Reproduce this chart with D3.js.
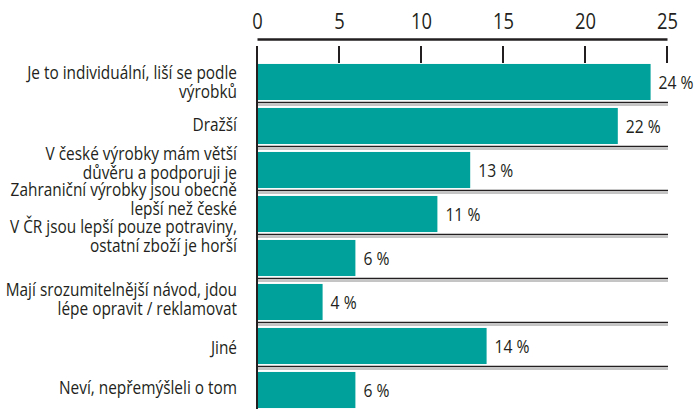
<!DOCTYPE html>
<html>
<head>
<meta charset="utf-8">
<script src="https://cdn.jsdelivr.net/npm/d3@7"></script>
<style>
  body { margin: 0; background: #fff; }
  text { font-family: "Open Sans", "Noto Sans", sans-serif; font-weight: 500; fill: #231f20; }
</style>
</head>
<body>
<div class="svg-container"></div>
<script>
// answers (category text, split into lines)
const categories = [
    ["Je to individuální, liší se podle", "výrobků"],
    ["Dražší"],
    ["V české výrobky mám větší", "důvěru a podporuji je"],
    ["Zahraniční výrobky jsou obecně", "lepší než české"],
    ["V ČR jsou lepší pouze potraviny,", "ostatní zboží je horší"],
    ["Mají srozumitelnější návod, jdou", "lépe opravit / reklamovat"],
    ["Jiné"],
    ["Neví, nepřemýšleli o tom"],
];
const values = [24, 22, 13, 11, 6, 4, 14, 6];
const tickValues = [0, 5, 10, 15, 20, 25];

// squeeze text horizontally around its anchor (the original uses a condensed face)
function squeeze(sel, sx, anchorX) {
    sel.attr("transform", function (d, i) {
        const ax = anchorX(d, i);
        return "translate(" + ax + ",0) scale(" + sx + ",1) translate(" + (-ax) + ",0)";
    });
}

function chart() {
    const width = 697;
    const height = 409;
    const barColor = "#00a19a";
    const ink = "#231f20";

    // small vertical nudges so the labels sit like in the original layout
    const labelNudge = [0, -1, -6.5, -15, -22, -2.5, 2, -2];

    const svg = d3.select(".svg-container").append("svg")
        .attr("width", width)
        .attr("height", height);

    const keys = categories.map((c, i) => "c" + i);

    const xScale = d3.scaleLinear().domain([0, 25]).range([257, 667]);
    const yScale = d3.scaleBand()
        .domain(keys)
        .range([60, 412])
        .paddingInner(0.18)
        .paddingOuter(0.09);
    const step = yScale.step();

    // bars
    svg.append("g")
        .selectAll(".bar")
        .data(values)
        .enter()
        .append("rect")
        .classed("bar", true)
        .attr("fill", barColor)
        .attr("x", xScale(0))
        .attr("y", (d, i) => yScale(keys[i]))
        .attr("width", d => xScale(d) - xScale(0))
        .attr("height", yScale.bandwidth());

    // separators between rows (dark line + grey shadow)
    const seps = keys.slice(0, -1).map(k => yScale(k) - step * 0.09 + step);
    const sepG = svg.append("g");
    sepG.selectAll(".sep-dark").data(seps).enter().append("line")
        .attr("x1", xScale(0)).attr("x2", xScale(25) + 1)
        .attr("y1", d => d - 1.5).attr("y2", d => d - 1.5)
        .attr("stroke", ink).attr("stroke-width", 1.5);
    sepG.selectAll(".sep-grey").data(seps).enter().append("line")
        .attr("x1", xScale(0)).attr("x2", xScale(25) + 1)
        .attr("y1", d => d + 1).attr("y2", d => d + 1)
        .attr("stroke", "#8a8a8a").attr("stroke-width", 1);

    // top axis: line + labels
    const axis = svg.append("g")
        .attr("transform", "translate(0,39)")
        .call(d3.axisTop(xScale).tickValues(tickValues).tickSize(0).tickPadding(10).tickFormat(d3.format("d")));
    axis.select(".domain").attr("stroke", ink).attr("stroke-width", 2.5);
    const tickText = axis.selectAll("text")
        .style("font-size", "21px")
        .style("font-family", "\"Open Sans\", \"Noto Sans\", sans-serif")
        .style("font-weight", 400)
        .attr("fill", ink);
    const w10 = tickText.filter(d => d === 10).node().getComputedTextLength();
    squeeze(tickText, 21 / w10, () => 0);

    // tick marks hanging below the axis line
    svg.append("g").selectAll("line").data(tickValues).enter().append("line")
        .attr("x1", d => xScale(d)).attr("x2", d => xScale(d))
        .attr("y1", 46).attr("y2", 63)
        .attr("stroke", ink).attr("stroke-width", 2);

    // left axis line
    svg.append("line")
        .attr("x1", xScale(0)).attr("x2", xScale(0))
        .attr("y1", 46).attr("y2", height)
        .attr("stroke", ink).attr("stroke-width", 2);

    // category labels
    const lineH = 19;
    const labelX = 237;
    const labels = svg.append("g").selectAll("text")
        .data(categories)
        .enter()
        .append("text")
        .attr("text-anchor", "end")
        .style("font-size", "17.5px")
        .attr("y", (d, i) => yScale(keys[i]) + yScale.bandwidth() / 2 + labelNudge[i]);
    labels.each(function (lines) {
        const t = d3.select(this);
        const y0 = +t.attr("y") - (lines.length - 1) * lineH / 2;
        lines.forEach((l, j) => {
            t.append("tspan")
                .attr("x", labelX)
                .attr("y", y0 + j * lineH)
                .attr("dy", "0.35em")
                .text(l);
        });
    });
    const wFirst = labels.filter((d, i) => i === 0).select("tspan").node().getComputedTextLength();
    squeeze(labels, 210 / wFirst, () => labelX);

    // value labels
    const valueLabels = svg.append("g").selectAll("text")
        .data(values)
        .enter()
        .append("text")
        .attr("x", d => xScale(d) + 8)
        .attr("y", (d, i) => yScale(keys[i]) + yScale.bandwidth() / 2)
        .attr("dy", "0.36em")
        .style("font-size", "19px")
        .text(d => d + " %");
    const w24 = valueLabels.filter((d, i) => i === 0).node().getComputedTextLength();
    squeeze(valueLabels, 35 / w24, d => xScale(d) + 8);
}

chart();
</script>
</body>
</html>
